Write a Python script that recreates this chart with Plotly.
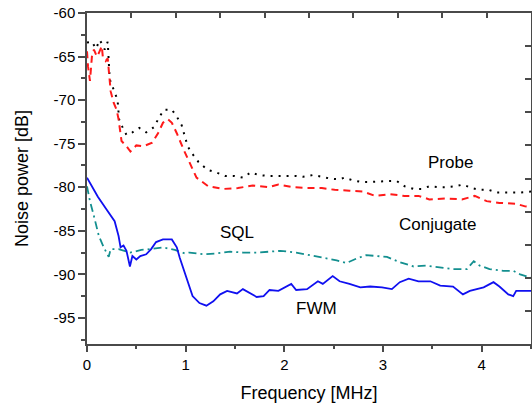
import plotly.graph_objects as go

probe_x = [0.0, 0.05, 0.09, 0.13, 0.18, 0.21, 0.23, 0.26, 0.28, 0.31, 0.32, 0.325, 0.36, 0.40, 0.46, 0.53,
           0.60, 0.68, 0.73, 0.78, 0.86, 0.91, 0.96, 1.02, 1.07, 1.13, 1.22, 1.31, 1.40, 1.49, 1.58, 1.66,
           1.74, 1.83, 1.92, 2.01, 2.11, 2.19, 2.29, 2.38, 2.46, 2.55, 2.61, 2.69, 2.78, 2.87, 2.97, 3.05,
           3.14, 3.22, 3.31, 3.39, 3.47, 3.56, 3.64, 3.73, 3.81, 3.90, 3.98, 4.07, 4.15, 4.23, 4.32, 4.40, 4.5]
probe_y = [-63.4, -63.3, -64.1, -63.1, -64.2, -63.3, -67.6, -68.4, -69.1, -70.0, -71.1, -72.2, -73.1, -74.0,
           -73.7, -73.2, -73.7, -73.1, -72.0, -71.1, -71.1, -71.9, -72.9, -75.3, -76.2, -77.1, -78.0, -78.3,
           -78.7, -78.7, -78.9, -78.3, -78.6, -78.7, -78.7, -78.7, -78.7, -78.8, -78.6, -78.8, -79.0, -79.1,
           -78.9, -79.2, -79.4, -79.4, -79.3, -79.3, -79.3, -79.9, -80.2, -80.2, -79.9, -80.0, -80.0, -79.9,
           -79.7, -80.1, -80.3, -80.3, -80.6, -80.6, -80.6, -80.6, -80.5]

conj_x = [0.0, 0.01, 0.03, 0.05, 0.07, 0.10, 0.12, 0.15, 0.16, 0.19, 0.21, 0.22, 0.23, 0.24, 0.27, 0.30,
          0.32, 0.33, 0.35, 0.40, 0.44, 0.50, 0.57, 0.66, 0.72, 0.77, 0.82, 0.86, 0.91, 0.98, 1.03, 1.07,
          1.11, 1.23, 1.38, 1.53, 1.68, 1.84, 1.94, 2.09, 2.23, 2.38, 2.51, 2.66, 2.80, 2.92, 3.07, 3.22,
          3.36, 3.47, 3.64, 3.80, 3.93, 4.05, 4.18, 4.35, 4.44, 4.5]
conj_y = [-64.4, -66.1, -67.8, -65.0, -64.2, -65.0, -64.6, -63.8, -65.0, -65.5, -65.2, -66.5, -67.6, -69.0,
          -70.3, -71.1, -72.2, -73.2, -74.7, -75.3, -75.9, -75.2, -75.3, -74.9, -73.8, -72.6, -72.2, -72.6,
          -73.8, -75.7, -77.0, -78.0, -78.9, -79.9, -80.2, -80.1, -79.8, -80.0, -79.7, -80.0, -80.1, -80.1,
          -80.3, -80.4, -80.5, -81.0, -80.8, -81.0, -81.0, -81.4, -81.3, -81.4, -81.0, -81.6, -81.8, -81.9,
          -82.2, -82.3]

sql_x = [0.0, 0.03, 0.07, 0.12, 0.17, 0.22, 0.24, 0.32, 0.44, 0.55, 0.65, 0.77, 0.89, 0.99, 1.04, 1.18,
         1.31, 1.45, 1.58, 1.72, 1.85, 1.96, 2.12, 2.26, 2.43, 2.53, 2.63, 2.73, 2.83, 2.94, 3.04, 3.17,
         3.31, 3.44, 3.58, 3.71, 3.85, 3.92, 3.98, 4.08, 4.22, 4.32, 4.39, 4.5]
sql_y = [-79.9, -81.6, -83.3, -85.6, -86.9, -88.0, -87.1, -87.1, -87.5, -87.2, -87.1, -86.9, -87.2, -87.6,
         -87.5, -87.7, -87.6, -87.4, -87.5, -87.5, -87.4, -87.3, -87.5, -87.8, -88.1, -88.4, -88.7, -88.2,
         -87.8, -87.9, -88.0, -88.6, -89.1, -89.0, -89.2, -89.4, -89.4, -88.5, -89.0, -89.4, -89.6, -89.6,
         -90.0, -90.4]

fwm_x = [0.0, 0.05, 0.11, 0.20, 0.28, 0.32, 0.34, 0.37, 0.40, 0.435, 0.46, 0.50, 0.54, 0.60, 0.65, 0.70,
         0.77, 0.86, 0.91, 0.94, 0.99, 1.03, 1.07, 1.14, 1.21, 1.28, 1.35, 1.42, 1.52, 1.58, 1.68, 1.72,
         1.79, 1.85, 1.94, 2.02, 2.07, 2.12, 2.23, 2.34, 2.39, 2.49, 2.56, 2.66, 2.77, 2.87, 2.99, 3.09,
         3.17, 3.26, 3.36, 3.48, 3.58, 3.71, 3.81, 3.88, 4.02, 4.12, 4.18, 4.27, 4.32, 4.35, 4.5]
fwm_y = [-78.9, -79.9, -81.1, -82.6, -83.9, -85.6, -86.9, -86.7, -87.3, -89.1, -87.9, -88.3, -87.9, -87.7,
         -87.1, -86.3, -86.0, -86.0, -86.9, -88.1, -89.9, -91.3, -92.5, -93.3, -93.6, -93.1, -92.3, -91.9,
         -92.2, -91.7, -92.3, -92.6, -92.5, -91.8, -91.9, -91.4, -91.1, -91.8, -91.7, -90.8, -91.1, -90.2,
         -90.8, -91.1, -91.5, -91.4, -91.5, -91.7, -90.9, -90.5, -90.8, -90.8, -91.3, -91.4, -92.3, -91.9,
         -91.5, -90.9, -91.4, -92.3, -92.5, -91.9, -91.9]

x_ticks = [0, 1, 2, 3, 4]
x_ticktext = ["0", "1", "2", "3", "4"]
y_ticks = [-60, -65, -70, -75, -80, -85, -90, -95]
y_ticktext = ["-60", "-65", "-70", "-75", "-80", "-85", "-90", "-95"]
top_ticks = [0.45 * k for k in range(11)]
right_ticks = [-60 - 3.8 * k for k in range(11)]

labels = ["Probe", "Conjugate", "SQL", "FWM"]
label_x = [3.68, 3.56, 1.52, 2.33]
label_y = [-77.2, -84.3, -85.2, -93.9]

AX = "#4a4a4a"
FONT = "Liberation Sans, Arial, sans-serif"

fig = go.Figure()
fig.add_trace(go.Scatter(x=probe_x, y=probe_y, mode="lines",
                         line=dict(color="black", width=2, dash="2px,6px"), name="Probe"))
fig.add_trace(go.Scatter(x=conj_x, y=conj_y, mode="lines",
                         line=dict(color="#ff1a1a", width=2, dash="7px,5px"), name="Conjugate"))
fig.add_trace(go.Scatter(x=sql_x, y=sql_y, mode="lines",
                         line=dict(color="#138f8f", width=1.8, dash="8px,4px,2px,4px"), name="SQL"))
fig.add_trace(go.Scatter(x=fwm_x, y=fwm_y, mode="lines",
                         line=dict(color="#1010f0", width=1.8), name="FWM"))
fig.add_trace(go.Scatter(x=[0], y=[-60], xaxis="x2", yaxis="y2", mode="markers",
                         marker=dict(opacity=0), hoverinfo="skip", showlegend=False))

for t, xv, yv in zip(labels, label_x, label_y):
    fig.add_annotation(x=xv, y=yv, text=t, showarrow=False,
                       font=dict(size=17, color="black", family=FONT))

fig.update_layout(
    width=532, height=405,
    margin=dict(l=87, r=1, t=13, b=61),
    paper_bgcolor="white", plot_bgcolor="white",
    showlegend=False,
    font=dict(family=FONT, color="black"),
    xaxis=dict(range=[0, 4.5], tickvals=x_ticks, ticktext=x_ticktext, ticks="outside", ticklen=6,
               tickwidth=1.5, tickcolor=AX, showline=True, linecolor=AX, linewidth=1.5, showgrid=False,
               zeroline=False, tickfont=dict(size=15),
               minor=dict(dtick=0.5, tick0=0, ticks="outside", ticklen=3, tickwidth=1.5, tickcolor=AX),
               title=dict(text="Frequency [MHz]", font=dict(size=18), standoff=15)),
    yaxis=dict(range=[-98, -60], tickvals=y_ticks, ticktext=y_ticktext, ticks="outside", ticklen=7,
               tickwidth=1.5, tickcolor=AX, showline=True, linecolor=AX, linewidth=1.5, showgrid=False,
               zeroline=False, tickfont=dict(size=15),
               minor=dict(dtick=2.5, tick0=-60, ticks="outside", ticklen=4, tickwidth=1.5, tickcolor=AX),
               title=dict(text="Noise power [dB]", font=dict(size=18), standoff=20)),
    xaxis2=dict(range=[0, 4.5], overlaying="x", side="top", anchor="y", tickvals=top_ticks,
                ticks="inside", ticklen=5, tickwidth=1.5, tickcolor=AX, showticklabels=False,
                showline=True, linecolor=AX, linewidth=1.5, showgrid=False, zeroline=False),
    yaxis2=dict(range=[-98, -60], overlaying="y", side="right", anchor="x", tickvals=right_ticks,
                ticks="inside", ticklen=6, tickwidth=1.5, tickcolor=AX, showticklabels=False,
                showline=True, linecolor=AX, linewidth=1.5, showgrid=False, zeroline=False),
)

fig.write_html("out.html")
